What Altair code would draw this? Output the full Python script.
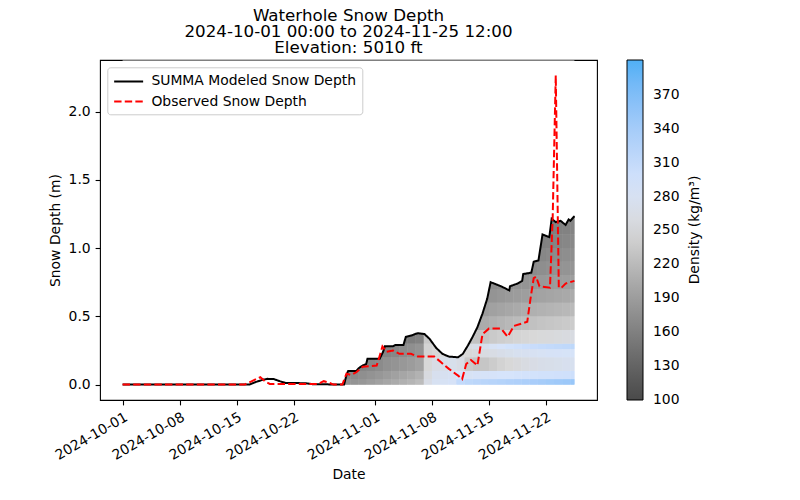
import altair as alt
import pandas as pd

MODEL = "SUMMA Modeled Snow Depth"
OBS = "Observed Snow Depth"

model_time = [
    "2024-10-01 00:00", "2024-10-16 14:00", "2024-10-17 10:00", "2024-10-18 05:00",
    "2024-10-18 19:00", "2024-10-19 14:00", "2024-10-20 07:00", "2024-10-21 00:00",
    "2024-10-23 12:00", "2024-10-24 07:00", "2024-10-28 05:00", "2024-10-28 12:00",
    "2024-10-28 17:00", "2024-10-29 17:00", "2024-10-30 00:00", "2024-10-30 12:00",
    "2024-10-30 22:00", "2024-10-31 02:00", "2024-11-01 14:00", "2024-11-02 00:00",
    "2024-11-02 05:00", "2024-11-03 05:00", "2024-11-03 12:00", "2024-11-04 12:00",
    "2024-11-04 19:00", "2024-11-05 12:00", "2024-11-05 22:00", "2024-11-06 07:00",
    "2024-11-07 02:00", "2024-11-07 17:00", "2024-11-08 12:00", "2024-11-09 07:00",
    "2024-11-10 02:00", "2024-11-11 05:00", "2024-11-11 19:00", "2024-11-12 10:00",
    "2024-11-13 00:00", "2024-11-13 14:00", "2024-11-14 05:00", "2024-11-14 19:00",
    "2024-11-15 05:00", "2024-11-16 12:00", "2024-11-17 12:00", "2024-11-17 14:00",
    "2024-11-18 12:00", "2024-11-19 02:00", "2024-11-19 05:00", "2024-11-20 05:00",
    "2024-11-20 12:00", "2024-11-21 02:00", "2024-11-21 14:00", "2024-11-22 10:00",
    "2024-11-22 17:00", "2024-11-23 05:00", "2024-11-23 19:00", "2024-11-24 10:00",
    "2024-11-24 19:00", "2024-11-25 00:00", "2024-11-25 12:00",
]
model_depth = [
    0.0, 0.0, 0.02, 0.035,
    0.042, 0.04, 0.025, 0.012,
    0.01, 0.003, 0.0, 0.07,
    0.10, 0.10, 0.12, 0.14,
    0.15, 0.19, 0.19, 0.24,
    0.28, 0.28, 0.29, 0.29,
    0.35, 0.36, 0.37, 0.376,
    0.37, 0.335, 0.27, 0.225,
    0.205, 0.20, 0.225, 0.286,
    0.35, 0.42, 0.52, 0.63,
    0.75, 0.72, 0.69, 0.72,
    0.74, 0.76, 0.81, 0.82,
    0.90, 0.91, 1.10, 1.08,
    1.215, 1.19, 1.20, 1.17,
    1.21, 1.20, 1.234,
]

obs_time = [
    "2024-10-01 00:00", "2024-10-16 00:00", "2024-10-16 17:00", "2024-10-17 22:00",
    "2024-10-18 14:00", "2024-10-19 02:00", "2024-10-25 00:00", "2024-10-25 17:00",
    "2024-10-26 07:00", "2024-10-26 22:00", "2024-10-28 00:00", "2024-10-28 12:00",
    "2024-10-29 02:00", "2024-10-29 17:00", "2024-10-30 12:00", "2024-11-01 05:00",
    "2024-11-01 14:00", "2024-11-01 22:00", "2024-11-02 10:00", "2024-11-03 05:00",
    "2024-11-04 00:00", "2024-11-05 10:00", "2024-11-06 07:00", "2024-11-08 07:00",
    "2024-11-09 02:00", "2024-11-10 02:00", "2024-11-11 05:00", "2024-11-11 17:00",
    "2024-11-12 05:00", "2024-11-12 19:00", "2024-11-13 14:00", "2024-11-14 05:00",
    "2024-11-15 00:00", "2024-11-16 12:00", "2024-11-17 07:00", "2024-11-18 02:00",
    "2024-11-19 17:00", "2024-11-20 02:00", "2024-11-20 12:00", "2024-11-20 19:00",
    "2024-11-21 05:00", "2024-11-22 12:00", "2024-11-22 20:00", "2024-11-23 05:00",
    "2024-11-23 14:00", "2024-11-23 22:00", "2024-11-24 10:00", "2024-11-25 12:00",
]
obs_depth = [
    0.0, 0.0, 0.02, 0.055,
    0.02, 0.005, 0.005, 0.025,
    0.015, 0.0, 0.0, 0.08,
    0.07, 0.09, 0.13, 0.14,
    0.21, 0.28, 0.24, 0.25,
    0.225, 0.225, 0.205, 0.205,
    0.165, 0.115, 0.066, 0.04,
    0.15, 0.18, 0.14, 0.37,
    0.41, 0.41, 0.35, 0.43,
    0.46, 0.62, 0.78, 0.79,
    0.72, 0.71, 1.23, 2.265,
    0.71, 0.71, 0.74, 0.76,
]

# snow-layer density grid: daily columns (edges) x depth bands
column_edges = [
    "2024-10-28 00:00", "2024-10-29 00:00", "2024-10-30 00:00", "2024-10-31 00:00",
    "2024-11-01 00:00", "2024-11-02 00:00", "2024-11-03 00:00", "2024-11-04 00:00",
    "2024-11-05 00:00", "2024-11-06 00:00", "2024-11-07 00:00", "2024-11-08 00:00",
    "2024-11-09 00:00", "2024-11-10 00:00", "2024-11-11 00:00", "2024-11-12 00:00",
    "2024-11-13 00:00", "2024-11-14 00:00", "2024-11-15 00:00", "2024-11-16 00:00",
    "2024-11-17 00:00", "2024-11-18 00:00", "2024-11-19 00:00", "2024-11-20 00:00",
    "2024-11-21 00:00", "2024-11-22 00:00", "2024-11-23 00:00", "2024-11-24 00:00",
    "2024-11-25 00:00", "2024-11-25 12:00",
]
band_edges = [0.0, 0.04, 0.1, 0.2, 0.26, 0.3, 0.4, 0.5, 0.6, 0.7, 0.8, 0.9, 1.0, 1.1,
              1.2, 1.24]
N = None
density_b0 = [180, 182, 185, 190, 195, 200, 205, 210, 215, 222, 265, 280, 282, 285, 310,
              315, 318, 320, 322, 325, 328, 330, 333, 336, 339, 342, 345, 348, 350]
density_b1 = [170, 172, 176, 180, 185, 190, 195, 200, 205, 212, 258, 275, 278, 280, 290,
              282, 285, 287, 288, 290, 290, 292, 293, 294, 295, 296, 297, 298, 300]
density_b2 = [N, N, 165, 168, 172, 178, 182, 186, 190, 196, 250, 265, 270, 272, 265,
              235, 230, 232, 238, 245, 250, 255, 260, 265, 268, 270, 272, 275, 276]
density_b3 = [N, N, N, N, 160, 165, 168, 172, 176, 182, 245, 250, 255, 258, 250,
              250, 255, 260, 264, 268, 272, 276, 278, 280, 282, 284, 285, 286, 287]
density_b4 = [N, N, N, N, 160, 165, 168, 172, 176, 182, 245, 250, 255, N, N,
              262, 268, 275, 282, 288, 294, 298, 302, 305, 308, 310, 312, 314, 315]
density_b5 = [N, N, N, N, N, N, N, 155, 158, 162, 235, 240, N, N, N,
              225, 228, 232, 236, 240, 243, 246, 248, 250, 252, 254, 256, 258, 260]
density_b6 = [N] * 16 + [200, 205, 210, 214, 218, 221, 224, 227, 230, 232, 234, 236, 238]
density_b7 = [N] * 16 + [185, 190, 195, 198, 201, 204, 207, 210, 212, 214, 216, 218, 220]
density_b8 = [N] * 17 + [178, 182, 185, 188, 190, 192, 195, 197, 199, 201, 203, 205]
density_b9 = [N] * 17 + [170, 172, 175, 177, 180, 182, 184, 186, 188, 190, 191, 192]
density_b10 = [N] * 22 + [168, 172, 175, 178, 180, 182, 183]
density_b11 = [N] * 23 + [165, 168, 171, 173, 175, 176]
density_b12 = [N] * 24 + [160, 163, 166, 168, 170]
density_b13 = [N] * 25 + [158, 161, 163, 165]
density_b14 = [N] * 25 + [155, 157, 159, 160]
density_bands = [density_b0, density_b1, density_b2, density_b3, density_b4, density_b5,
                 density_b6, density_b7, density_b8, density_b9, density_b10, density_b11,
                 density_b12, density_b13, density_b14]

x_ticks = ["2024-10-01", "2024-10-08", "2024-10-15", "2024-10-22",
           "2024-11-01", "2024-11-08", "2024-11-15", "2024-11-22"]
y_ticks = [0.0, 0.5, 1.0, 1.5, 2.0]
density_ticks = [100, 130, 160, 190, 220, 250, 280, 310, 340, 370]
colorbar_title = ["Density (kg/m³)"]

# ---- tables
rows = []
for j, band in enumerate(density_bands):
    for i, d in enumerate(band):
        if d is None:
            continue
        rows.append({"t0": column_edges[i], "t1": column_edges[i + 1],
                     "y0": band_edges[j], "y1": band_edges[j + 1], "density": d})
rect_df = pd.DataFrame(rows)
model_df = pd.DataFrame({"time": model_time, "depth": model_depth, "series": MODEL})
obs_df = pd.DataFrame({"time": obs_time, "depth": obs_depth, "series": OBS})


def dt(s, h=0, m=0):
    y, mo, d = s.split("-")
    return alt.DateTime(year=int(y), month=int(mo), date=int(d), hours=h, minutes=m)


FONT = 13.9
Y_MAX = 2.378
x_scale = alt.Scale(domain=[dt("2024-09-28", 5, 24), dt("2024-11-28", 6, 36)])
y_scale = alt.Scale(domain=[-0.113, Y_MAX], nice=False, zero=False)
x_axis = alt.Axis(values=[dt(v) for v in x_ticks], format="%Y-%m-%d", labelAngle=330,
                  labelAlign="right", labelBaseline="top", labelOverlap=False,
                  labelFlush=False, title="Date", titlePadding=5)
y_axis = alt.Axis(values=y_ticks, format=".1f", title="Snow Depth (m)", titlePadding=6,
                  labelOverlap=False, labelFlush=False)

dens_scale = alt.Scale(domain=[99.8, 250, 290, 401],
                       range=["#4a4a4a", "#d8d8d8", "#d6e4fb", "#4fb0f5"], clamp=True)
dens_legend = alt.Legend(title=None, orient="right", offset=30,
                         direction="vertical", type="gradient", gradientLength=340,
                         gradientThickness=16, gradientStrokeColor="black",
                         gradientStrokeWidth=1, values=density_ticks, labelFontSize=FONT,
                         labelOffset=10, labelOverlap=False, labelBaseline="middle",
                         padding=0, labelColor="black")

line_color = alt.Scale(domain=[MODEL, OBS], range=["black", "red"])
line_dash = alt.Scale(domain=[MODEL, OBS], range=[[1, 0], [7.4, 3.2]])
line_legend = alt.Legend(title=None, orient="none", legendX=7.3, legendY=7.3,
                         symbolType="M-1,0H3", symbolSize=210, symbolStrokeWidth=2,
                         labelFontSize=FONT, labelOffset=21.5, rowPadding=4.2,
                         labelLimit=400, fillColor="white", strokeColor="#cccccc",
                         cornerRadius=3, padding=5.6, labelColor="black")


def rect_layer():
    return alt.Chart(rect_df).mark_rect().encode(
        x=alt.X("t0:T", scale=x_scale, axis=x_axis),
        x2="t1:T",
        y=alt.Y("y0:Q", scale=y_scale, axis=y_axis),
        y2="y1:Q",
        fill=alt.Fill("density:Q", scale=dens_scale, legend=dens_legend),
    )


mask = alt.Chart(model_df).mark_area(color="white", interpolate="linear").encode(
    x=alt.X("time:T"),
    y=alt.Y("depth:Q"),
    y2=alt.datum(Y_MAX - 0.004),
)

cbar_title = alt.Chart(pd.DataFrame({"t": colorbar_title})).mark_text(
    angle=270, fontSize=FONT, color="black", baseline="middle", align="center"
).encode(x=alt.value(595), y=alt.value(170), text="t:N")


def line_layer(df):
    return alt.Chart(df).mark_line(strokeWidth=2, interpolate="linear").encode(
        x=alt.X("time:T"),
        y=alt.Y("depth:Q"),
        color=alt.Color("series:N", scale=line_color, legend=line_legend),
        strokeDash=alt.StrokeDash("series:N", scale=line_dash, legend=line_legend),
    )


chart = alt.layer(rect_layer(), rect_layer(), mask, line_layer(model_df),
                  line_layer(obs_df), cbar_title).properties(
    width=497,
    height=340,
    title=alt.TitleParams(
        text=["Waterhole Snow Depth", "2024-10-01 00:00 to 2024-11-25 12:00",
              "Elevation: 5010 ft"],
        fontSize=16.7, fontWeight="normal", anchor="middle", frame="group",
        offset=6, lineHeight=16, color="black", baseline="bottom", dy=19.5),
    autosize=alt.AutoSizeParams(type="none"),
    padding={"left": 92, "top": 52, "right": 170, "bottom": 90},
).configure(font="DejaVu Sans").configure_view(
    stroke="black", strokeWidth=1.1
).configure_axis(
    labelFontSize=FONT, titleFontSize=FONT, titleFontWeight="normal", grid=False,
    domain=False, tickColor="black", tickSize=4.9, tickWidth=1.1, labelPadding=4.9,
    labelColor="black", titleColor="black",
)

chart.save("out.html", embed_options={"renderer": "svg", "actions": False})
